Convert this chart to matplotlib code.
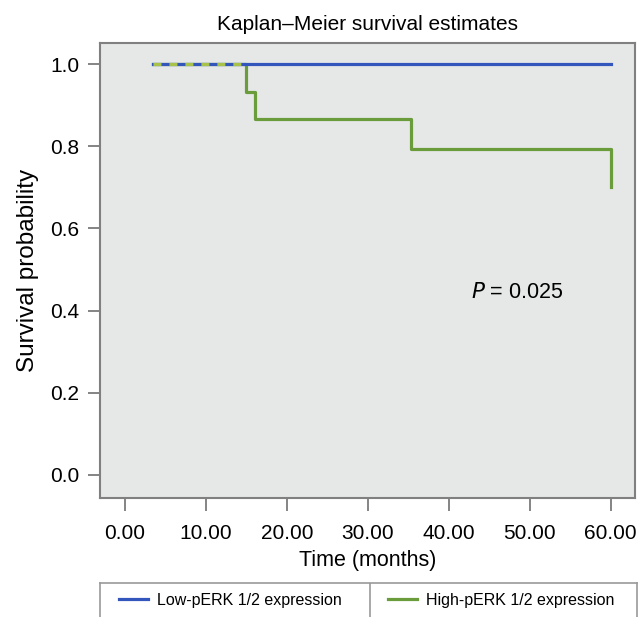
import numpy as np
import matplotlib
matplotlib.use('Agg')
import matplotlib.pyplot as plt
from matplotlib.lines import Line2D

# survival steps
t_low = [3.5, 60.0]
s_low = [1.0, 1.0]
t_high = [3.5, 15.0, 16.0, 35.3, 60.0, 60.0]
s_high = [1.0, 0.933, 0.867, 0.794, 0.794, 0.70]

xticks = [0, 10, 20, 30, 40, 50, 60]
yticks = [0.0, 0.2, 0.4, 0.6, 0.8, 1.0]

blue = '#3356bc'
green = '#6b9c3c'

plt.rcParams['font.family'] = ['Liberation Sans', 'DejaVu Sans']

fig = plt.figure(figsize=(6.4, 6.17), dpi=100)
ax = fig.add_axes([100/640, 1-498/617, 535/640, (498-42.7)/617])
ax.set_facecolor('#e6e8e8')

ax.step(t_high, s_high, where='post', color=green, lw=2.3, zorder=2)
ax.step(t_low, s_low, where='post', color=blue, lw=2.3, zorder=3)
# shared segment at 1.0 looks dashed blue/green
t_sh = [t for t, s in zip(t_high, s_high) if s == 1.0] + [t_high[1]]
ax.plot(t_sh, [1.0]*len(t_sh), color='#a9c24a', lw=2.3, dashes=(2.5, 2.5), zorder=4)

ax.set_xlim(-3.1, 63.0)
ax.set_ylim(-0.056, 1.052)
ax.set_xticks(xticks)
ax.set_xticklabels(['%.2f' % v for v in xticks])
ax.set_yticks(yticks)
ax.set_yticklabels(['%.1f' % v for v in yticks])
ax.tick_params(length=9, width=1.2, color='#707070', labelsize=15)
ax.tick_params(axis='x', pad=10)
ax.tick_params(axis='y', pad=6)
for sp in ax.spines.values():
    sp.set_color('#808080')
    sp.set_linewidth(1.5)

ax.set_title('Kaplan\u2013Meier survival estimates', fontsize=15, pad=9)
ax.set_xlabel('Time (months)', fontsize=15.5, labelpad=5)
ax.set_ylabel('Survival probability', fontsize=17.5, labelpad=8)
ax.text(48.4, 0.443, r'$\it{P}$ = 0.025', fontsize=15.5, ha='center', va='center')

# legend box at the bottom
lax = fig.add_axes([100/640, 0, 537/640, 34/617])
lax.set_xlim(0, 537)
lax.set_ylim(0, 34)
lax.set_xticks([])
lax.set_yticks([])
lax.spines['bottom'].set_visible(False)
for sp in ['left', 'top', 'right']:
    lax.spines[sp].set_color('#999999')
    lax.spines[sp].set_linewidth(1.2)
lax.axvline(270, color='#999999', lw=1.2)
lax.patch.set_alpha(0)

h1 = Line2D([], [], color=blue, lw=2.3)
h2 = Line2D([], [], color=green, lw=2.3)
leg1 = fig.legend([h1], ['Low-pERK 1/2 expression'], loc='center left',
                  bbox_to_anchor=(119/640, 1-600/617), frameon=False,
                  fontsize=11.5, borderpad=0, borderaxespad=0,
                  handlelength=1.8, handletextpad=0.55)
leg2 = fig.legend([h2], ['High-pERK 1/2 expression'], loc='center left',
                  bbox_to_anchor=(388/640, 1-600/617), frameon=False,
                  fontsize=11.5, borderpad=0, borderaxespad=0,
                  handlelength=1.8, handletextpad=0.55)

fig.savefig('out.png', dpi=100)
